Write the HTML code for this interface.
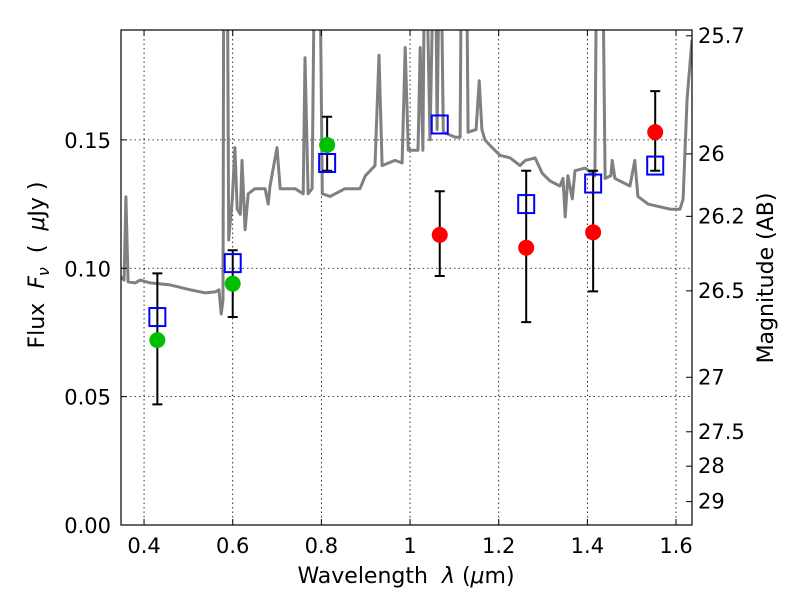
<!DOCTYPE html>
<html><head><meta charset="utf-8">
<style>
html,body{margin:0;padding:0;background:#fff;}
svg text{font-family:"DejaVu Sans","Liberation Sans",sans-serif;fill:#000;white-space:pre;}
</style></head>
<body>
<svg id="chart" width="800" height="600" viewBox="0 0 800 600" xmlns="http://www.w3.org/2000/svg">
<rect x="0" y="0" width="800" height="600" fill="#fff"/>
<g id="grid"></g>
<g id="plot"></g>
<g id="axes"></g>
</svg>
<script>
// ---- data ----
const specLam = [0.348,0.355,0.359,0.364,0.380,0.391,0.414,0.459,0.504,0.538,0.560,0.569,0.574,0.578,0.580,0.587,0.591,0.599,0.605,0.610,0.617,0.621,0.628,0.635,0.650,0.673,0.680,0.684,0.700,0.707,0.741,0.759,0.763,0.770,0.779,0.786,0.795,0.802,0.820,0.853,0.887,0.899,0.921,0.930,0.937,0.966,0.982,0.989,0.996,1.018,1.023,1.029,1.034,1.045,1.056,1.061,1.068,1.075,1.102,1.113,1.117,1.126,1.131,1.149,1.156,1.162,1.169,1.185,1.203,1.226,1.248,1.260,1.282,1.298,1.316,1.338,1.345,1.350,1.356,1.366,1.372,1.395,1.417,1.422,1.433,1.440,1.453,1.456,1.462,1.496,1.507,1.514,1.537,1.587,1.609,1.616,1.625,1.636];
const specFlux = [0.0966,0.0954,0.1278,0.0947,0.0943,0.0954,0.0943,0.0935,0.0916,0.0904,0.0908,0.0916,0.0822,0.0877,0.25,0.25,0.111,0.127,0.147,0.123,0.121,0.142,0.115,0.129,0.131,0.131,0.125,0.132,0.147,0.131,0.131,0.129,0.182,0.129,0.131,0.25,0.25,0.129,0.128,0.131,0.131,0.136,0.140,0.183,0.140,0.142,0.141,0.186,0.146,0.146,0.186,0.146,0.25,0.150,0.25,0.154,0.25,0.153,0.151,0.151,0.25,0.25,0.153,0.154,0.173,0.154,0.150,0.147,0.144,0.143,0.140,0.142,0.143,0.137,0.134,0.132,0.135,0.120,0.136,0.127,0.138,0.139,0.136,0.25,0.25,0.135,0.136,0.142,0.135,0.132,0.142,0.128,0.125,0.123,0.123,0.127,0.166,0.189];
const modelLam = [0.43,0.60,0.813,1.067,1.262,1.413,1.553];
const modelFlux = [0.081,0.102,0.141,0.156,0.125,0.133,0.140];
const greenLam = [0.43,0.60,0.813];
const greenFlux = [0.072,0.094,0.148];
const greenLo = [0.047,0.081,0.138];
const greenHi = [0.098,0.107,0.159];
const redLam = [1.067,1.262,1.413,1.553];
const redFlux = [0.113,0.108,0.114,0.153];
const redLo = [0.097,0.079,0.091,0.138];
const redHi = [0.130,0.138,0.138,0.169];
const xTicks = [0.4,0.6,0.8,1.0,1.2,1.4,1.6];
const xTickLabels = ["0.4","0.6","0.8","1","1.2","1.4","1.6"];
const yTicks = [0,0.05,0.10,0.15];
const yTickLabels = ["0.00","0.05","0.10","0.15"];
const magTicks = [25.7,26,26.2,26.5,27,27.5,28,29];
const magTickLabels = ["25.7","26","26.2","26.5","27","27.5","28","29"];

// ---- axes ----
const L=121,R=692,T=30,B=525;
const xMin=0.348,xMax=1.636,yMin=0,yMax=0.1928;
const sx=v=>L+(v-xMin)/(xMax-xMin)*(R-L);
const sy=v=>B-(v-yMin)/(yMax-yMin)*(B-T);
const magToFlux=m=>Math.pow(10,(23.9-m)/2.5);
const NS="http://www.w3.org/2000/svg";
function mk(tag,attrs,parent){const e=document.createElementNS(NS,tag);for(const k in attrs)e.setAttribute(k,attrs[k]);parent.appendChild(e);return e;}
const grid=document.getElementById('grid'),plot=document.getElementById('plot'),axes=document.getElementById('axes');

xTicks.forEach((t,i)=>{
  const x=sx(t);
  const g=mk('line',{x1:x,x2:x,y1:T,y2:B,stroke:'#000','stroke-width':0.8,'stroke-dasharray':'1.5,3'},grid);
  
  
  const tk=mk('path',{d:`M${x},${B}v-6M${x},${T}v6`,stroke:'#000','stroke-width':1},axes);
  
  
  const tx=mk('text',{x:x,y:B+28,'text-anchor':'middle','font-size':21},axes);
  tx.textContent=xTickLabels[i];
  
  
});
yTicks.forEach((t,i)=>{
  const y=sy(t);
  if(t>0){const g=mk('line',{x1:L,x2:R,y1:y,y2:y,stroke:'#000','stroke-width':0.8,'stroke-dasharray':'1.5,3'},grid);
  
  }
  const tk=mk('path',{d:`M${L},${y}h6`,stroke:'#000','stroke-width':1},axes);
  
  
  const tx=mk('text',{x:L-10,y:y+8,'text-anchor':'end','font-size':21},axes);
  tx.textContent=yTickLabels[i];
  
  
});
magTicks.forEach((m,i)=>{
  const y=sy(magToFlux(m));
  const tk=mk('path',{d:`M${R},${y}h-6`,stroke:'#000','stroke-width':1},axes);
  
  
  const tx=mk('text',{x:R+6,y:y+7,'text-anchor':'start','font-size':21},axes);
  tx.textContent=magTickLabels[i];
  
  
});

// ---- spectrum ----
const cp=mk('clipPath',{id:'clip'},plot);
mk('rect',{x:L,y:T,width:R-L,height:B-T},cp);
const pg=mk('g',{'clip-path':'url(#clip)'},plot);
let d='';
specLam.forEach((l,i)=>{d+=(i?'L':'M')+sx(l).toFixed(1)+','+sy(specFlux[i]).toFixed(1);});
const sp=mk('path',{d:d,fill:'none',stroke:'#808080','stroke-width':3,'stroke-linejoin':'round'},pg);



function errbar(l,lo,hi){
  const x=sx(l);
  const e=mk('path',{d:`M${x},${sy(lo)}V${sy(hi)}M${x-5},${sy(lo)}h10M${x-5},${sy(hi)}h10`,stroke:'#000','stroke-width':2,fill:'none'},pg);
  
  
}
greenLam.forEach((l,i)=>{errbar(l,greenLo[i],greenHi[i]);});
redLam.forEach((l,i)=>{errbar(l,redLo[i],redHi[i]);});
modelLam.forEach((l,i)=>{
  const r=mk('rect',{x:sx(l)-8,y:sy(modelFlux[i])-9,width:16,height:18,fill:'none',stroke:'#0000ff','stroke-width':2},pg);
  
  
});
greenLam.forEach((l,i)=>{
  const c=mk('circle',{cx:sx(l),cy:sy(greenFlux[i]),r:8,fill:'#00bf00'},pg);
  
  
});
redLam.forEach((l,i)=>{
  const c=mk('circle',{cx:sx(l),cy:sy(redFlux[i]),r:8,fill:'#ff0000'},pg);
  
  
});

const fr=mk('rect',{x:L,y:T,width:R-L,height:B-T,fill:'none',stroke:'#000','stroke-width':1.2},axes);



const xt=mk('text',{x:406,y:583,'text-anchor':'middle','font-size':22},axes);
xt.innerHTML='Wavelength\u00a0\u00a0<tspan font-style="italic">λ</tspan>\u00a0(<tspan font-style="italic">μ</tspan>m)';


const yt=mk('text',{x:0,y:0,'text-anchor':'middle','font-size':22,transform:'translate(44,265) rotate(-90)'},axes);
yt.innerHTML='Flux\u00a0\u00a0<tspan font-style="italic">F</tspan><tspan font-style="italic" font-size="16" dy="5">ν</tspan><tspan dy="-5">\u00a0\u00a0(\u00a0\u00a0</tspan><tspan font-style="italic">μ</tspan>Jy\u00a0)';


const rt=mk('text',{x:0,y:0,'text-anchor':'middle','font-size':22,transform:'translate(773,278) rotate(-90)'},axes);
rt.textContent='Magnitude (AB)';


</script>
</body></html>
